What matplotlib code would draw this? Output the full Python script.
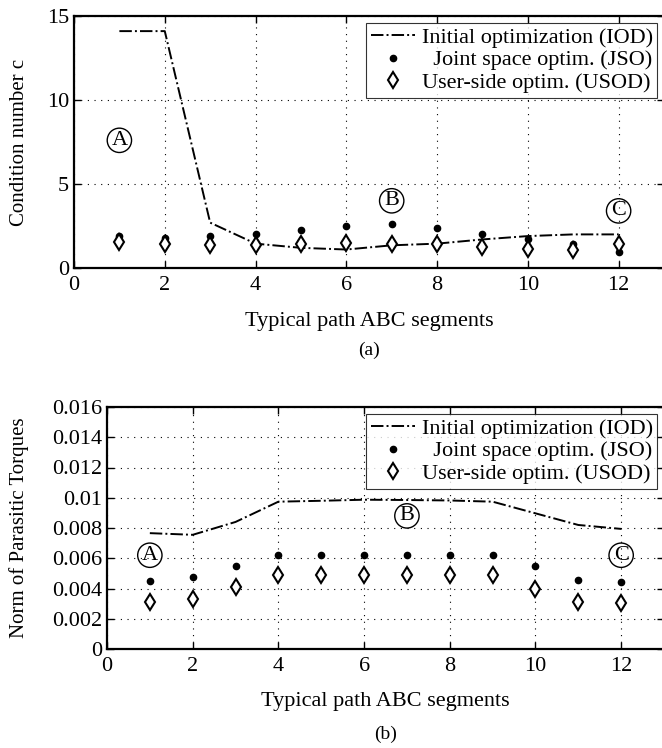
import numpy as np
import matplotlib.pyplot as plt

plt.rcParams['font.family'] = ['Liberation Serif', 'DejaVu Serif']

# segment index along the path ABC
segments = np.arange(1, 13)

# (a) condition number
cond_iod = [14.1, 14.1, 2.7, 1.45, 1.2, 1.1, 1.35, 1.45, 1.7, 1.9, 2.0, 2.0]
cond_jso = [1.9, 1.8, 1.9, 2.05, 2.25, 2.5, 2.6, 2.4, 2.05, 1.7, 1.4, 0.95]
cond_usod = [1.55, 1.4, 1.35, 1.35, 1.45, 1.5, 1.45, 1.4, 1.25, 1.15, 1.1, 1.4]

# (b) norm of parasitic torques
torq_iod = [0.00766, 0.00755, 0.0084, 0.00974, 0.0098, 0.00987, 0.00985,
            0.00982, 0.00974, 0.00897, 0.0082, 0.00794]
torq_jso = [0.0045, 0.00473, 0.0055, 0.00624, 0.00624, 0.00624, 0.00624,
            0.00624, 0.00624, 0.00547, 0.00453, 0.0044]
torq_usod = [0.00313, 0.0033, 0.00407, 0.00488, 0.00488, 0.00488, 0.00488,
             0.00488, 0.00488, 0.00394, 0.00309, 0.00304]

labels = ['Initial optimization (IOD)', '  Joint space optim. (JSO)',
          'User-side optim. (USOD)']
torq_ticklabels = ['0', '0.002', '0.004', '0.006', '0.008', '0.01',
                   '0.012', '0.014', '0.016']

# circled point labels (x, y) for each panel
pts_a = {'A': (1, 7.6), 'B': (7, 4.0), 'C': (12, 3.4)}
pts_b = {'A': (1, 0.0062), 'B': (7, 0.0088), 'C': (12, 0.0062)}

W, H = 662, 748
fig = plt.figure(figsize=(W / 100, H / 100), dpi=100)
# axes boxes in pixels: left, top, right, bottom
box1 = (74, 16, 664, 268)
box2 = (107, 407, 664, 649)


def add_axes(box):
    l, t, r, b = box
    return fig.add_axes([l / W, 1 - b / H, (r - l) / W, (b - t) / H])


ax1 = add_axes(box1)
ax2 = add_axes(box2)


def draw(ax, box, iod, jso, usod, pts, ylim, yticks, ylabel, tag, tag_y):
    ax.plot(segments, iod, color='k', ls='-.', lw=1.4, label=labels[0])
    ax.plot(segments, jso, ls='none', marker='o', ms=4.5, color='k',
            label=labels[1])
    ax.plot(segments, usod, ls='none', marker='d', ms=8, mfc='white',
            mec='k', mew=1.5, label=labels[2])
    for name, (x, y) in pts.items():
        ax.text(x, y, name, ha='center', va='center', fontsize=16,
                bbox=dict(boxstyle='circle,pad=0.12', fc='none', ec='k', lw=1))
    ax.set_xlim(0, 13)
    ax.set_xticks(range(0, 13, 2))
    ax.set_ylim(*ylim)
    ax.set_yticks(yticks)
    ax.grid(True, color='k', ls=(0, (1, 5)), lw=0.8)
    ax.tick_params(direction='in', top=True, right=True, labelsize=16,
                   length=5, width=1)
    ax.tick_params(axis='x', pad=6)
    for s in ax.spines.values():
        s.set_linewidth(1.6)
    l, t, r, b = box
    ax.set_xlabel('Typical path ABC segments', fontsize=16)
    ax.xaxis.set_label_coords(0.5, -(tag_y[0] - b) / (b - t))
    ax.set_ylabel(ylabel, fontsize=15)
    ax.yaxis.set_label_coords(-(l - 29) / (r - l), 0.5)
    leg = ax.legend(loc='upper right', fontsize=16, frameon=True, fancybox=False,
                    borderpad=0.2, labelspacing=0.1, handlelength=2.0,
                    handletextpad=0.3, borderaxespad=0.3, numpoints=1)
    leg.get_frame().set_edgecolor('k')
    leg.get_frame().set_linewidth(0.8)
    fig.text(0.5 * (l + r) / W, 1 - tag_y[1] / H, tag, ha='center',
             va='center', fontsize=14)


draw(ax1, box1, cond_iod, cond_jso, cond_usod, pts_a, (0, 15), [0, 5, 10, 15],
     'Condition number c', '(a)', (312, 350))
ax1.yaxis.set_major_formatter(plt.FormatStrFormatter('%d'))
draw(ax2, box2, torq_iod, torq_jso, torq_usod, pts_b, (0, 0.016),
     np.arange(0, 0.0161, 0.002), 'Norm of Parasitic Torques', '(b)',
     (692, 734))
ax2.set_yticklabels(torq_ticklabels)

fig.savefig('out.png', dpi=100)
